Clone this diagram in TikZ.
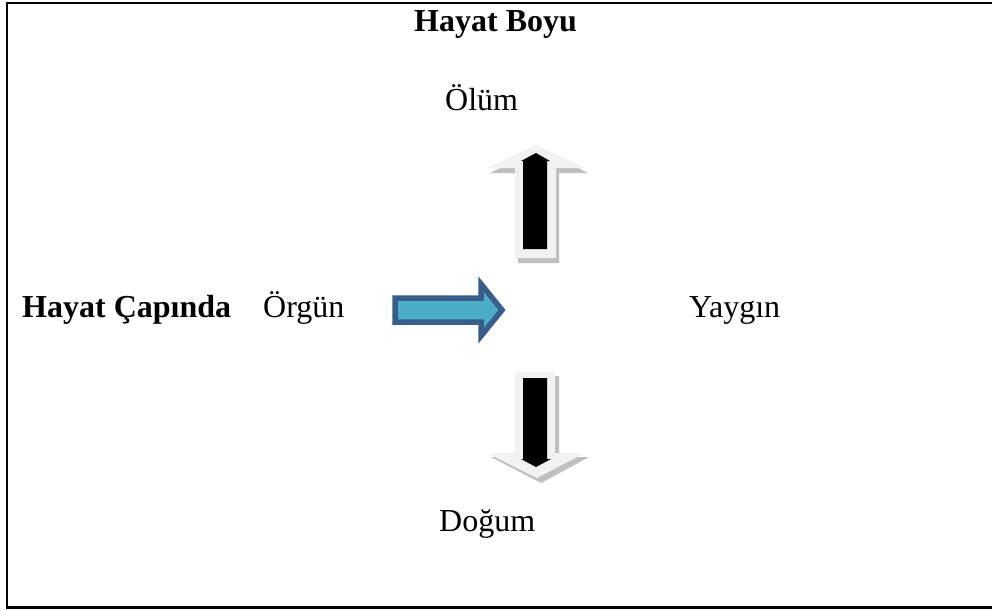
\documentclass[tikz,border=0pt]{standalone}
\usepackage{fontspec}
\setmainfont{Liberation Serif}
\definecolor{arrowblue}{HTML}{4BACC6}
\definecolor{arrowedge}{HTML}{385D8A}
\definecolor{lightface}{HTML}{F2F2F2}
\definecolor{shadowgray}{HTML}{BFBFBF}
\begin{document}
\begin{tikzpicture}[x=1pt,y=-1pt,
  lbl/.style={anchor=base west,inner sep=0pt,font=\fontsize{32}{38}\selectfont},
  blbl/.style={lbl,font=\fontsize{32}{38}\selectfont\bfseries}]
\useasboundingbox (0,0) rectangle (992,610);
% frame (right side lies outside the picture)
\draw[line width=2.2pt] (1000,3) -- (7,3) -- (7,607.5) -- (1000,607.5);
% texts
\node[blbl] (boyu) at (414,32) {Hayat Boyu};
\node[lbl] (olum) at (445,110) {Ölüm};
\node[blbl] (capinda) at (22,317) {Hayat Çapında};
\node[lbl] (orgun) at (263,317) {Örgün};
\node[lbl] (yaygin) at (689,317) {Yaygın};
\node[lbl] (dogum) at (439,531) {Doğum};
% up arrow: shadow, face, black inner arrow
\fill[shadowgray] (518,263) -- (518,173) -- (490,173) -- (539,149) -- (588,173) -- (559,173) -- (559,263) -- cycle;
\fill[lightface] (515,258) -- (515,168) -- (487,168) -- (536,145) -- (585,168) -- (556,168) -- (556,258) -- cycle;
\fill[black] (523,249) -- (523,161) -- (521,161) -- (536,153) -- (550,161) -- (547,161) -- (547,249) -- cycle;
% down arrow: shadow, face, black inner arrow
\fill[shadowgray] (519,376) -- (559,376) -- (559,457) -- (589,457) -- (541,483) -- (491,457) -- (519,457) -- cycle;
\fill[lightface] (515,372) -- (555,372) -- (555,453) -- (585,453) -- (537,478) -- (487,453) -- (515,453) -- cycle;
\fill[black] (523,378) -- (547,378) -- (547,459) -- (551,459) -- (536,467) -- (521,459) -- (523,459) -- cycle;
% blue arrow
\filldraw[fill=arrowblue,draw=arrowedge,line width=5.5pt,line join=miter]
  (395,298) -- (481,298) -- (481,284) -- (502,310) -- (481,336) -- (481,322) -- (395,322) -- cycle;
\end{tikzpicture}
\end{document}
